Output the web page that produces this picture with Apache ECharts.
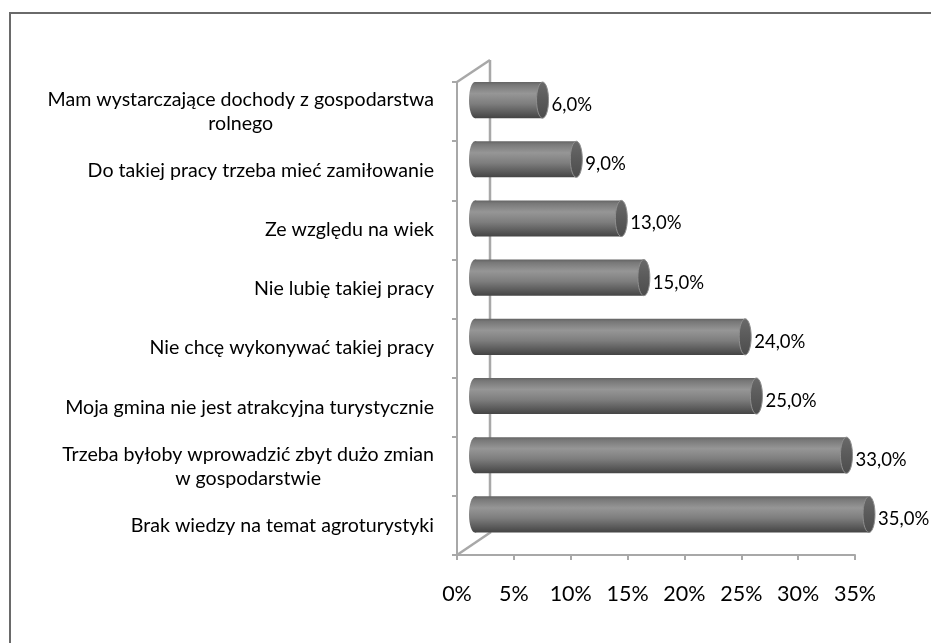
<!DOCTYPE html>
<html><head><meta charset="utf-8">
<script src="https://cdn.jsdelivr.net/npm/echarts@6/dist/echarts.min.js"></script>
<style>html,body{margin:0;padding:0;background:#fff}#c{width:931px;height:643px}</style>
</head><body><div id="c"></div>
<script>
const categories = [
  'Mam wystarczające dochody z gospodarstwa\nrolnego',
  'Do takiej pracy trzeba mieć zamiłowanie',
  'Ze względu na wiek',
  'Nie lubię takiej pracy',
  'Nie chcę wykonywać takiej pracy',
  'Moja gmina nie jest atrakcyjna turystycznie',
  'Trzeba byłoby wprowadzić zbyt dużo zmian\nw gospodarstwie',
  'Brak wiedzy na temat agroturystyki'
];
const values = [6, 9, 13, 15, 24, 25, 33, 35];
const xTicks = [0, 5, 10, 15, 20, 25, 30, 35];

const FONT = 'Lato, "Open Sans", sans-serif';
const wall = '#a8a8a8';
const chart = echarts.init(document.getElementById('c'));

const bodyStops = [
  {offset: 0, color: '#646464'},
  {offset: 0.08, color: '#787878'},
  {offset: 0.32, color: '#969696'},
  {offset: 0.6, color: '#7e7e7e'},
  {offset: 0.85, color: '#5a5a5a'},
  {offset: 1, color: '#444444'}
];
const capStops = [
  {offset: 0, color: '#6a6a6a'},
  {offset: 0.5, color: '#5a5a5a'},
  {offset: 1, color: '#4c4c4c'}
];

chart.setOption({
  animation: false,
  backgroundColor: '#fff',
  grid: [
    {left: 457, right: 76, top: 82, bottom: 88},
    {left: 475, right: 62, top: 70.5, bottom: 99}
  ],
  xAxis: [
    {
      gridIndex: 0, type: 'value', min: 0, max: 35, interval: 5,
      axisLine: {show: true, lineStyle: {color: wall, width: 2}},
      axisTick: {show: true, length: 5, lineStyle: {color: wall, width: 2}},
      splitLine: {show: false},
      axisLabel: {formatter: v => v + '%', color: '#000', fontSize: 21.5, fontFamily: FONT, margin: 28}
    },
    {gridIndex: 1, type: 'value', min: 0, max: 35, show: false}
  ],
  yAxis: [
    {
      gridIndex: 0, type: 'category', data: categories, inverse: true,
      axisLine: {show: true, lineStyle: {color: wall, width: 2}},
      axisTick: {show: true, length: 5, interval: 0, lineStyle: {color: wall, width: 2}},
      axisLabel: {
        margin: 23, color: '#000', fontSize: 19.6, fontFamily: FONT, lineHeight: 24, interval: 0,
        formatter: s => s.split('\n').map(l => '{c|' + l + '}').join('\n'),
        rich: {c: {align: 'center', fontSize: 19.6, fontFamily: FONT, lineHeight: 24, color: '#000'}}
      }
    },
    {gridIndex: 1, type: 'category', data: categories, inverse: true, show: false}
  ],
  graphic: [
    {type: 'line', z: 0, shape: {x1: 457, y1: 82, x2: 490, y2: 60}, style: {stroke: wall, lineWidth: 2.5}},
    {type: 'line', z: 0, shape: {x1: 490, y1: 60, x2: 490, y2: 532}, style: {stroke: wall, lineWidth: 2.5}},
    {type: 'line', z: 0, shape: {x1: 457, y1: 555, x2: 491, y2: 532}, style: {stroke: wall, lineWidth: 2.5}},
    {type: 'rect', z: 10, shape: {x: 10, y: 13, width: 1000, height: 1000}, style: {fill: null, stroke: '#6a6a6a', lineWidth: 2}}
  ],
  series: [{
    type: 'custom',
    xAxisIndex: 1, yAxisIndex: 1,
    data: values.map((v, i) => [v, i]),
    encode: {x: 0, y: 1},
    renderItem: function (params, api) {
      const v = api.value(0), c = api.value(1);
      const p0 = api.coord([0, c]);
      const p1 = api.coord([v, c]);
      const band = api.size([0, 1])[1];
      const h = band * 0.61, ry = h / 2, rx = 6;
      const cy = p0[1];
      const body = new echarts.graphic.LinearGradient(0, 0, 0, 1, bodyStops);
      const cap = new echarts.graphic.LinearGradient(0, 0, 0, 1, capStops);
      return {
        type: 'group',
        children: [
          {type: 'ellipse', shape: {cx: p0[0], cy: cy, rx: rx, ry: ry}, style: {fill: body}},
          {type: 'rect', shape: {x: p0[0], y: cy - ry, width: p1[0] - p0[0], height: h}, style: {fill: body}},
          {type: 'ellipse', shape: {cx: p1[0], cy: cy, rx: rx, ry: ry}, style: {fill: cap, stroke: '#8e8e8e', lineWidth: 1}},
          {type: 'text', style: {
            text: v.toFixed(1).replace('.', ',') + '%',
            x: p1[0] + rx + 3, y: cy + 5,
            verticalAlign: 'middle', align: 'left',
            fontSize: 18.5, fontFamily: FONT, fill: '#000'
          }}
        ]
      };
    }
  }]
});
</script>
</body></html>
